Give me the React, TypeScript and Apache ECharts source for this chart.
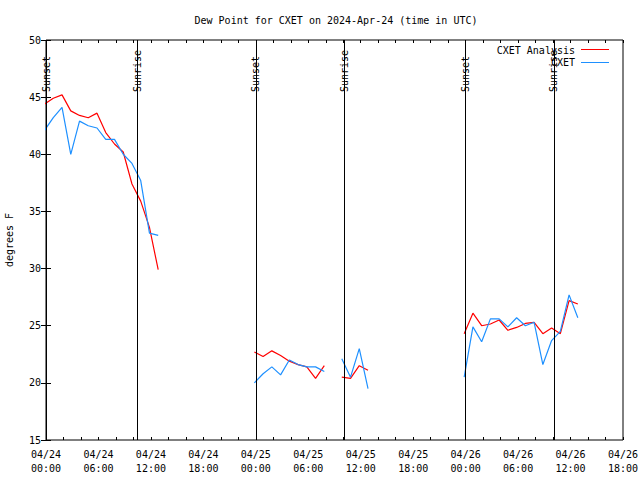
import React, { useEffect, useRef } from "react";
import * as echarts from "echarts";

const TITLE = "Dew Point for CXET on 2024-Apr-24 (time in UTC)";
const Y_NAME = "degrees F";
const ANALYSIS_NAME = "CXET Analysis";
const OBS_NAME = "CXET";

// observation times (MM/DD HH:MM, UTC); null values break the lines
const times = [
  "04/23 23:50", "04/24 00:50", "04/24 01:50", "04/24 02:50", "04/24 03:50", "04/24 04:50", "04/24 05:50",
  "04/24 06:50", "04/24 07:50", "04/24 08:50", "04/24 09:50", "04/24 10:50", "04/24 11:50", "04/24 12:50",
  "04/24 18:00",
  "04/24 23:50", "04/25 00:50", "04/25 01:50", "04/25 02:50", "04/25 03:50", "04/25 04:50", "04/25 05:50",
  "04/25 06:50", "04/25 07:50",
  "04/25 09:00",
  "04/25 09:50", "04/25 10:50", "04/25 11:50", "04/25 12:50",
  "04/25 18:00",
  "04/25 23:50", "04/26 00:50", "04/26 01:50", "04/26 02:50", "04/26 03:50", "04/26 04:50", "04/26 05:50",
  "04/26 06:50", "04/26 07:50", "04/26 08:50", "04/26 09:50", "04/26 10:50", "04/26 11:50", "04/26 12:50",
];

const analysisValues = [
  44.4, 44.9, 45.2, 43.8, 43.4, 43.2, 43.6, 41.9, 40.9, 40.2, 37.4, 35.9, 33.6, 29.9,
  null,
  22.7, 22.3, 22.8, 22.4, 21.9, 21.6, 21.4, 20.4, 21.5,
  null,
  20.5, 20.4, 21.5, 21.1,
  null,
  24.3, 26.1, 25.0, 25.15, 25.5, 24.6, 24.85, 25.2, 25.3, 24.3, 24.8, 24.3, 27.2, 26.9,
];

const observedValues = [
  42.1, 43.2, 44.1, 40.0, 42.9, 42.5, 42.3, 41.3, 41.3, 40.0, 39.2, 37.7, 33.1, 32.9,
  null,
  20.0, 20.8, 21.4, 20.7, 22.0, 21.6, 21.4, 21.4, 21.0,
  null,
  22.1, 20.5, 23.0, 19.5,
  null,
  20.5, 24.9, 23.6, 25.6, 25.6, 24.9, 25.7, 25.0, 25.3, 21.6, 23.7, 24.5, 27.7, 25.7,
];

const sunsetTimes = ["04/24 00:00", "04/25 00:00", "04/26 00:00"];
const sunriseTimes = ["04/24 10:26", "04/25 10:10", "04/26 10:05"];

const xTickLabels = [
  "04/24\n00:00", "04/24\n06:00", "04/24\n12:00", "04/24\n18:00",
  "04/25\n00:00", "04/25\n06:00", "04/25\n12:00", "04/25\n18:00",
  "04/26\n00:00", "04/26\n06:00", "04/26\n12:00", "04/26\n18:00",
];

const FONT = "DejaVu Sans Mono";

function toHours(t: string): number {
  const [md, hm] = t.split(" ");
  const [, d] = md.split("/").map(Number);
  const [hh, mm] = hm.split(":").map(Number);
  return (d - 24) * 24 + hh + mm / 60;
}

export default function App() {
  const ref = useRef<HTMLDivElement>(null);

  useEffect(() => {
    if (!ref.current) return;
    const chart = echarts.init(ref.current, null, { renderer: "svg" });

    const mk = (vals: (number | null)[]) =>
      times.map((t, i) => [toHours(t), vals[i] == null ? "-" : vals[i]]);

    const xCommon = {
      type: "value" as const,
      min: 0,
      max: 66,
      interval: 2,
      axisLine: { show: false },
      splitLine: { show: false },
      axisTick: { show: true, inside: true, length: 3, lineStyle: { color: "#000" } },
    };
    const yCommon = {
      type: "value" as const,
      min: 15,
      max: 50,
      interval: 5,
      axisLine: { show: false },
      splitLine: { show: false },
      axisTick: { show: true, inside: true, length: 5, lineStyle: { color: "#000" } },
    };

    const markData = [...sunsetTimes, ...sunriseTimes].map((t) => ({ xAxis: toHours(t) }));

    chart.setOption({
      animation: false,
      grid: {
        left: 46,
        right: 17,
        top: 40,
        bottom: 40,
        containLabel: false,
        outerBoundsMode: "none",
        show: true,
        borderColor: "#000",
        borderWidth: 1,
        backgroundColor: "transparent",
      },
      xAxis: [
        {
          ...xCommon,
          position: "bottom",
          axisLabel: {
            show: true,
            margin: 7,
            color: "#000",
            fontFamily: FONT,
            fontSize: 10,
            lineHeight: 14,
            hideOverlap: false,
            formatter: (v: number) => (v % 6 === 0 ? xTickLabels[v / 6] : ""),
          },
        },
        { ...xCommon, position: "top", axisLabel: { show: false } },
      ],
      yAxis: [
        {
          ...yCommon,
          position: "left",
          name: Y_NAME,
          nameLocation: "middle",
          nameGap: 32,
          nameTextStyle: { color: "#000", fontFamily: FONT, fontSize: 10 },
          axisLabel: { show: true, margin: 5, color: "#000", fontFamily: FONT, fontSize: 10 },
        },
        { ...yCommon, position: "right", axisLabel: { show: false } },
      ],
      series: [
        {
          name: ANALYSIS_NAME,
          type: "line",
          data: mk(analysisValues),
          showSymbol: false,
          symbol: "none",
          connectNulls: false,
          lineStyle: { color: "#ff0000", width: 1.2 },
          itemStyle: { color: "#ff0000" },
          markLine: {
            silent: true,
            symbol: "none",
            label: { show: false },
            lineStyle: { color: "#000", width: 1, type: "solid" },
            data: markData,
          },
        },
        {
          name: OBS_NAME,
          type: "line",
          data: mk(observedValues),
          showSymbol: false,
          symbol: "none",
          connectNulls: false,
          lineStyle: { color: "#1e90ff", width: 1.2 },
          itemStyle: { color: "#1e90ff" },
        },
      ],
    });

    const labelY = 92;
    const txt = (x: number, y: number, text: string, align: string, rot = 0) => ({
      type: "text",
      x,
      y,
      rotation: rot,
      silent: true,
      style: {
        text,
        fill: "#000",
        font: `10px "${FONT}"`,
        textAlign: align,
        textVerticalAlign: "middle",
        align,
        verticalAlign: "middle",
      },
    });

    const graphics: any[] = [txt(336, 20, TITLE, "center")];
    sunsetTimes.forEach((t) => {
      const px = chart.convertToPixel({ xAxisIndex: 0 }, toHours(t)) as number;
      graphics.push(txt(px, labelY, "Sunset", "left", Math.PI / 2));
    });
    sunriseTimes.forEach((t) => {
      const px = chart.convertToPixel({ xAxisIndex: 0 }, toHours(t)) as number;
      graphics.push(txt(px, labelY, "Sunrise", "left", Math.PI / 2));
    });
    // legend (text then line sample, gnuplot style)
    graphics.push(txt(575, 50, ANALYSIS_NAME, "right"));
    graphics.push({ type: "line", silent: true, shape: { x1: 581, y1: 49.5, x2: 609, y2: 49.5 }, style: { stroke: "#ff0000", lineWidth: 1 } });
    graphics.push(txt(575, 62, OBS_NAME, "right"));
    graphics.push({ type: "line", silent: true, shape: { x1: 581, y1: 62.5, x2: 609, y2: 62.5 }, style: { stroke: "#1e90ff", lineWidth: 1 } });

    chart.setOption({ graphic: graphics });

    return () => chart.dispose();
  }, []);

  return (
    <div
      ref={ref}
      style={{ position: "fixed", left: 0, top: 0, width: 640, height: 480, background: "#fff" }}
    />
  );
}
